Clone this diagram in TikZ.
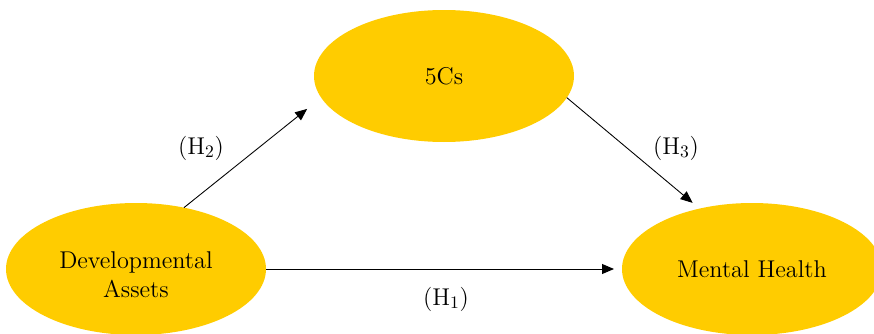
\documentclass[tikz,border=0pt]{standalone}
\usetikzlibrary{shapes.geometric,arrows.meta}
\definecolor{gold}{HTML}{FFCC00}
\begin{document}
\begin{tikzpicture}[>={Triangle[length=2.4mm,width=2mm]},
  var/.style={ellipse,fill=gold,minimum width=5.2cm,minimum height=2.64cm,
    inner sep=0pt,outer sep=0pt,align=center,
    font=\fontsize{13.8}{17}\selectfont},
  hyp/.style={font=\fontsize{13.8}{17}\selectfont},
  pfeil/.style={->,line width=0.5pt}]
% Rahmen (Seitenverhaeltnis wie im Original)
\useasboundingbox (0,0) rectangle (17.48,6.66);
\clip (0,0) rectangle (17.48,6.66);
% Variablen (gelbe Ellipsen)
\node[var,text height=33pt] (da) at (2.72,1.28) {Developmental\\Assets};
\node[var] (fc) at (8.88,5.14)  {5Cs};
\node[var] (mh) at (15.04,1.28) {Mental Health};
% Pfade
\draw[pfeil,shorten >=0.16cm] (da.east) -- (mh.west);
\draw[pfeil,shorten >=0.36cm] (da.52)   -- (fc.190);
\draw[pfeil,shorten >=0.18cm] (fc.-10)  -- (mh.131);
% Hypothesen
\node[hyp] (h1) at (8.92,0.68)  {(H$_1$)};
\node[hyp] (h2) at (4.02,3.70)  {(H$_2$)};
\node[hyp] (h3) at (13.52,3.70) {(H$_3$)};
\end{tikzpicture}
\end{document}
